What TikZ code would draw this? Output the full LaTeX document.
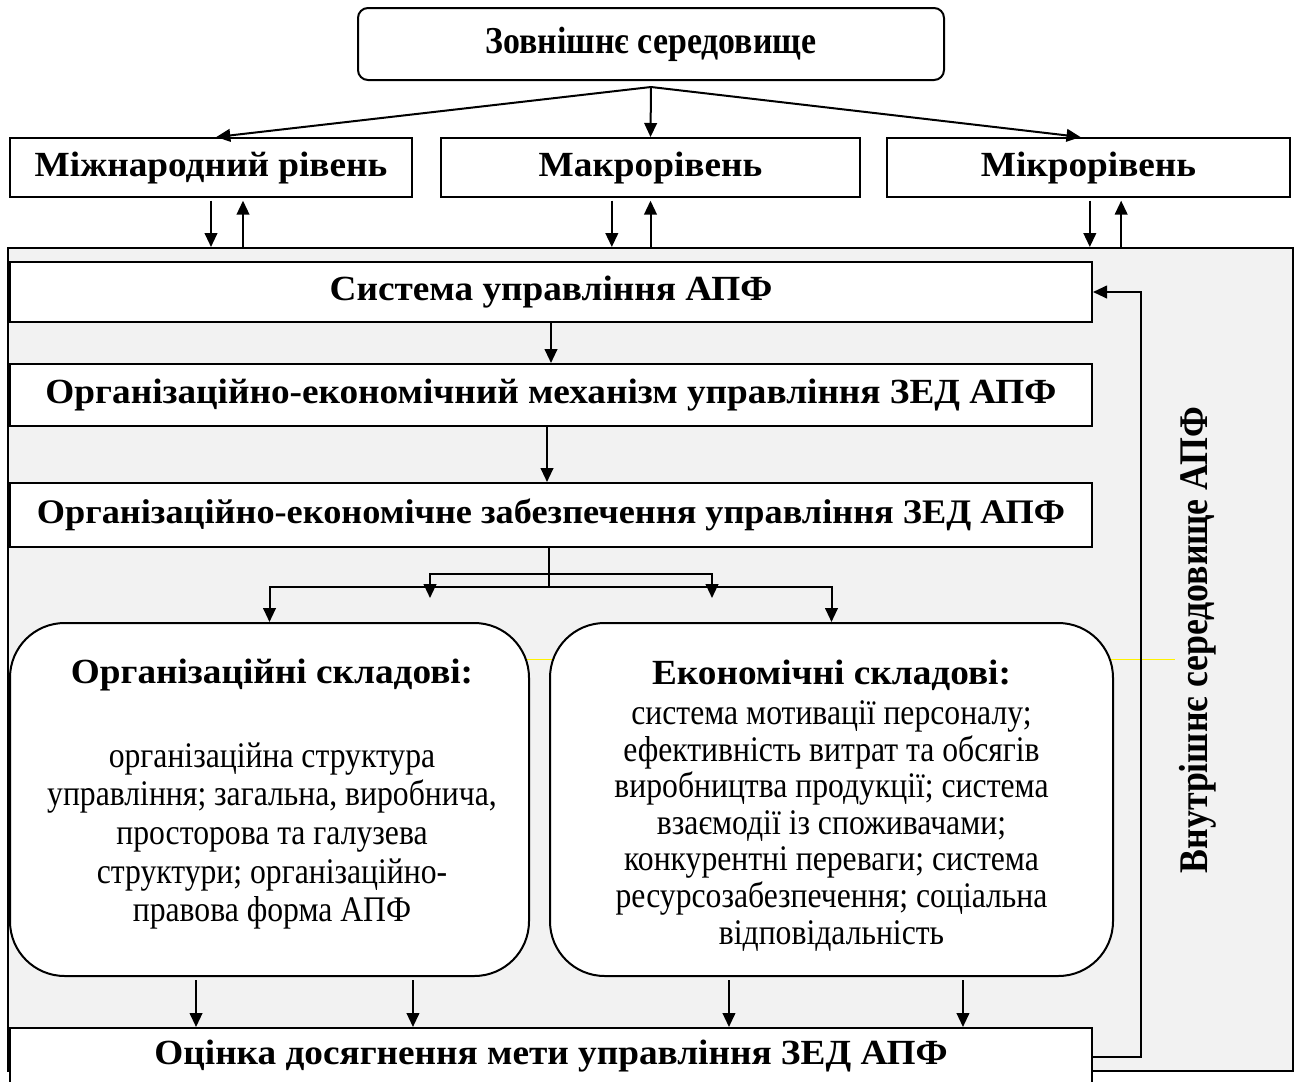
\documentclass[tikz,border=0pt]{standalone}
\usepackage{fontspec}
\setmainfont{Liberation Serif}
\newfontfamily\cond{Liberation Serif}[FakeStretch=0.88]
\newfontfamily\bcond{Liberation Serif}[FakeStretch=1.055]
\newfontfamily\tcond{Liberation Serif}[FakeStretch=0.89]
\usetikzlibrary{arrows.meta}
\definecolor{bggray}{HTML}{F2F2F2}
\begin{document}
\begin{tikzpicture}[x=0.75pt,y=-0.75pt,
  lbl/.style={font=\bcond\bfseries\fontsize{26.5pt}{30pt}\selectfont},
  box/.style={draw, line width=1.5pt, fill=white, inner sep=0pt, lbl},
  rbox/.style={draw, line width=1.5pt, fill=white, inner sep=0pt, rounded corners=41pt},
  arr/.style={line width=1.5pt, -{Triangle[length=10.5pt,width=9.5pt]}},
  ln/.style={line width=1.5pt},
  head/.style={font=\bcond\bfseries\fontsize{26.5pt}{30pt}\selectfont},
  bodyA/.style={align=center, font=\cond\fontsize{27pt}{28.9pt}\selectfont},
  bodyB/.style={align=center, font=\cond\fontsize{27pt}{27.4pt}\selectfont}]
\useasboundingbox (0,0) rectangle (1297,1082);
\clip (0,0) rectangle (1297,1082);

% outer grey area
\node[draw, line width=1.5pt, fill=bggray, inner sep=0pt, minimum width=1285*0.75pt, minimum height=823*0.75pt] (outer) at (650.5,659.5) {};
\draw[yellow, line width=0.5pt] (527,659) -- (1175,659);

% top
\node[box, rounded corners=7.5pt, minimum width=586*0.75pt, minimum height=72*0.75pt, font=\tcond\bfseries\fontsize{28.5pt}{32pt}\selectfont] (top) at (651,44) {Зовнішнє середовище};
\node[box, minimum width=402*0.75pt, minimum height=59*0.75pt] (intl) at (211,167.5) {Міжнародний рівень};
\node[box, minimum width=419*0.75pt, minimum height=59*0.75pt] (macro) at (650.5,167.5) {Макрорівень};
\node[box, minimum width=403*0.75pt, minimum height=59*0.75pt] (micro) at (1088.5,167.5) {Мікрорівень};

% inner boxes
\node[box, minimum width=1082*0.75pt, minimum height=60*0.75pt] (sys) at (551,292) {Система управління АПФ};
\node[box, minimum width=1082*0.75pt, minimum height=62*0.75pt] (mech) at (551,395) {Організаційно-економічний механізм управління ЗЕД АПФ};
\node[box, minimum width=1082*0.75pt, minimum height=64*0.75pt, font=\bcond\bfseries\fontsize{25.8pt}{30pt}\selectfont] (supp) at (551,515) {Організаційно-економічне забезпечення управління ЗЕД АПФ};

\node[rbox, minimum width=519*0.75pt, minimum height=353*0.75pt] (org) at (269.5,799.5) {};
\node[rbox, minimum width=563*0.75pt, minimum height=353*0.75pt] (eco) at (831.5,799.5) {};
\node[head] (orgh) at (272,675) {Організаційні складові:};
\node[bodyA] (orgb) at (272,836) {організаційна структура\\управління; загальна, виробнича,\\просторова та галузева\\структури; організаційно-\\правова форма АПФ};
\node[head] (ecoh) at (831.5,675) {Економічні складові:};
\node[bodyB] (ecob) at (831.5,826) {система мотивації персоналу;\\ефективність витрат та обсягів\\виробництва продукції; система\\взаємодії із споживачами;\\конкурентні переваги; система\\ресурсозабезпечення; соціальна\\відповідальність};

\node[box, minimum width=1082*0.75pt, minimum height=56*0.75pt] (eval) at (551,1056) {Оцінка досягнення мети управління ЗЕД АПФ};

\node[font=\cond\bfseries\fontsize{30.5pt}{34pt}\selectfont, rotate=90] (inner) at (1198,640) {Внутрішнє середовище АПФ};

% arrows top
\coordinate (tsrc) at ([yshift=-4.5pt]top.south);
\draw[arr] (tsrc) -- ([xshift=4pt]intl.north);
\draw[arr] (tsrc) -- (macro.north);
\draw[arr] (tsrc) -- ([xshift=-6pt]micro.north);

% level <-> outer
\draw[arr] ([yshift=-2pt]intl.south) -- (intl.south |- outer.north);
\draw[arr] ([xshift=24pt]intl.south |- outer.north) -- ([xshift=24pt,yshift=-2pt]intl.south);
\draw[arr] ([xshift=-29pt,yshift=-2pt]macro.south) -- ([xshift=-29pt]macro.south |- outer.north);
\draw[arr] (macro.south |- outer.north) -- ([yshift=-2pt]macro.south);
\draw[arr] ([xshift=1pt,yshift=-2pt]micro.south) -- ([xshift=1pt]micro.south |- outer.north);
\draw[arr] ([xshift=24.5pt]micro.south |- outer.north) -- ([xshift=24.5pt,yshift=-2pt]micro.south);

% chain
\draw[arr] (sys.south) -- (mech.north);
\draw[arr] ([xshift=-3pt]mech.south) -- ([xshift=-3pt]supp.north);

% bracket
\coordinate (s1) at (430,598);
\coordinate (s2) at (712,598);
\draw[ln] ([xshift=-1.5pt]supp.south) -- ++(0,39);
\draw[arr] ([xshift=-1.5pt]supp.south) ++(0,39) -| (org.north);
\draw[arr] ([xshift=-1.5pt]supp.south) ++(0,39) -| (eco.north);
\draw[arr] ([xshift=-1.5pt]supp.south) ++(0,26) -| (s1);
\draw[arr] ([xshift=-1.5pt]supp.south) ++(0,26) -| (s2);

% bottom arrows
\draw[arr] ([xshift=-55.1pt,yshift=-2.5pt]org.south) -- ([xshift=-55.1pt]org.south |- eval.north);
\draw[arr] ([xshift=107.6pt,yshift=-2.5pt]org.south) -- ([xshift=107.6pt]org.south |- eval.north);
\draw[arr] ([xshift=-76.9pt,yshift=-2.5pt]eco.south) -- ([xshift=-76.9pt]eco.south |- eval.north);
\draw[arr] ([xshift=98.6pt,yshift=-2.5pt]eco.south) -- ([xshift=98.6pt]eco.south |- eval.north);

% feedback
\draw[arr] ([yshift=-0.75pt]eval.east) -- ++(48,0) |- (sys.east);
\end{tikzpicture}
\end{document}
